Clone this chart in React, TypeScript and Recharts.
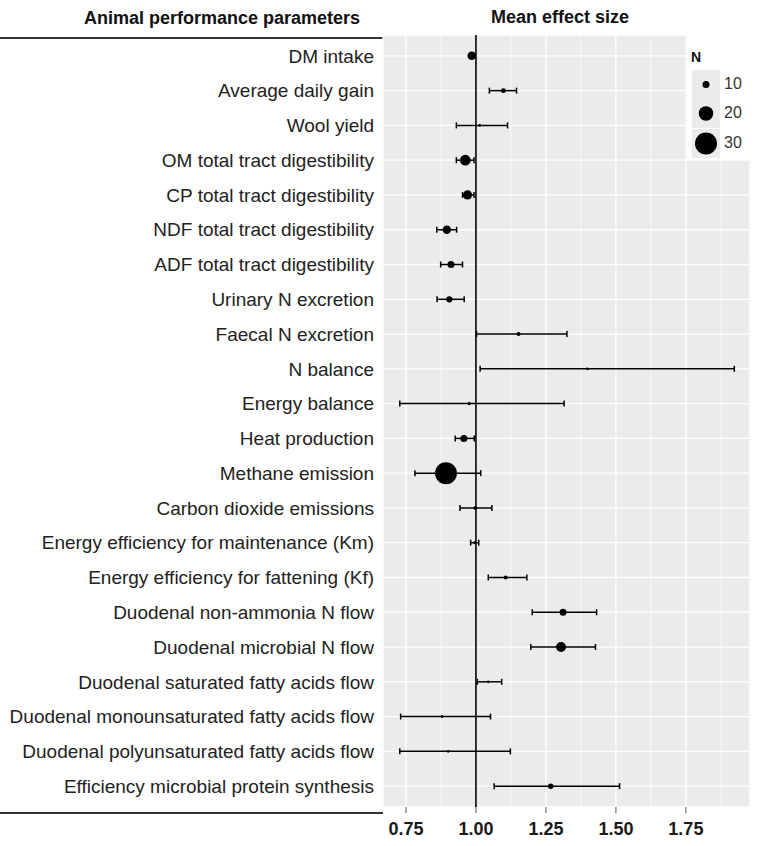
import React from 'react';
import {
  ScatterChart,
  Scatter,
  XAxis,
  YAxis,
  CartesianGrid,
  ReferenceLine,
  ErrorBar,
} from 'recharts';

// animal performance parameters, top to bottom
const parameters = [
  'DM intake',
  'Average daily gain',
  'Wool yield',
  'OM total tract digestibility',
  'CP total tract digestibility',
  'NDF total tract digestibility',
  'ADF total tract digestibility',
  'Urinary N excretion',
  'Faecal N excretion',
  'N balance',
  'Energy balance',
  'Heat production',
  'Methane emission',
  'Carbon dioxide emissions',
  'Energy efficiency for maintenance (Km)',
  'Energy efficiency for fattening (Kf)',
  'Duodenal non-ammonia N flow',
  'Duodenal microbial N flow',
  'Duodenal saturated fatty acids flow',
  'Duodenal monounsaturated fatty acids flow',
  'Duodenal polyunsaturated fatty acids flow',
  'Efficiency microbial protein synthesis',
];

// mean effect size and confidence limits
const effect = [0.985, 1.098, 1.014, 0.962, 0.970, 0.896, 0.911, 0.905, 1.152, 1.398, 0.976, 0.957, 0.893, 0.998, 0.997, 1.106, 1.311, 1.304, 1.044, 0.879, 0.901, 1.267];
const lower = [0.977, 1.048, 0.930, 0.930, 0.952, 0.860, 0.874, 0.861, 1.002, 1.015, 0.728, 0.926, 0.782, 0.943, 0.981, 1.044, 1.201, 1.196, 1.005, 0.731, 0.728, 1.065];
const upper = [0.993, 1.145, 1.113, 0.993, 0.993, 0.931, 0.952, 0.958, 1.325, 1.923, 1.315, 0.994, 1.017, 1.057, 1.010, 1.182, 1.431, 1.427, 1.092, 1.052, 1.123, 1.513];
// number of comparisons (point size)
const nStudies = [12, 7, 4, 15, 13, 12, 10, 9, 6, 3, 5, 10, 30, 6, 5, 6, 10, 14, 3, 3, 3, 8];

const xTicks = [0.75, 1.0, 1.25, 1.5, 1.75];
const xMinor = [0.875, 1.125, 1.375, 1.625, 1.875];
const legendSizes = [10, 20, 30];

const FONT = '"Liberation Sans", Arial, sans-serif';

const radius = (n: number) => Math.max(1.4, (0.75 * n - 0.5) / 2);

const rows = parameters.map((name, i) => ({
  name,
  idx: i,
  effect: effect[i],
  n: nStudies[i],
  err: [effect[i] - lower[i], upper[i] - effect[i]],
}));

const Dot = (props: any) => {
  const { cx, cy, payload } = props;
  if (cx == null || cy == null) return null;
  return <circle cx={cx} cy={cy} r={radius(payload.n)} fill="#000" />;
};

const SizeLegend = () => (
  <div
    style={{
      position: 'absolute',
      left: 687,
      top: 35,
      width: 70,
      height: 125,
      background: '#fff',
      fontFamily: FONT,
    }}
  >
    <div style={{ position: 'absolute', left: 4, top: 14, fontSize: 14, fontWeight: 700, lineHeight: '16px', color: '#111' }}>
      N
    </div>
    {legendSizes.map((s, i) => (
      <div key={s} style={{ position: 'absolute', left: 5, top: 35 + i * 29.3, height: 29.3, width: 65 }}>
        <svg width={28} height={29} style={{ position: 'absolute', left: 0, top: 0 }}>
          <rect x={0} y={0} width={28} height={29} fill="#ebebeb" />
          <circle cx={14} cy={14.5} r={radius(s)} fill="#000" />
        </svg>
        <span style={{ position: 'absolute', left: 32, top: 5, fontSize: 16, lineHeight: '18px', color: '#333' }}>{s}</span>
      </div>
    ))}
  </div>
);

export default function App() {
  return (
    <div style={{ position: 'absolute', left: 0, top: 0, width: 757, height: 846, background: '#fff' }}>
      <div style={{ position: 'absolute', left: 0, width: 444, top: 8, textAlign: 'center', fontFamily: FONT, fontWeight: 700, fontSize: 18, lineHeight: '20px', color: '#111' }}>
        Animal performance parameters
      </div>
      <div style={{ position: 'absolute', left: 460, width: 200, top: 7, textAlign: 'center', fontFamily: FONT, fontWeight: 700, fontSize: 18, lineHeight: '20px', color: '#111' }}>
        Mean effect size
      </div>
      <div style={{ position: 'absolute', left: 0, top: 37, width: 383, height: 2, background: '#333' }} />
      <div style={{ position: 'absolute', left: 0, top: 812, width: 383, height: 2, background: '#333' }} />
      <div style={{ position: 'absolute', left: 0, top: 0 }}>
        <ScatterChart width={757} height={846} margin={{ top: 35, right: 7, bottom: 0, left: 0 }}>
          <CartesianGrid fill="#ebebeb" fillOpacity={1} stroke="#fff" strokeWidth={1.3} />
          <XAxis
            type="number"
            dataKey="effect"
            domain={[0.668, 1.979]}
            allowDataOverflow
            ticks={xTicks}
            tickFormatter={(v: number) => v.toFixed(2)}
            axisLine={false}
            tickLine={{ stroke: '#555' }}
            tickSize={6}
            tickMargin={9}
            height={39}
            tick={{ fontSize: 18, fontWeight: 700, fill: '#1a1a1a', fontFamily: FONT }}
          />
          <YAxis
            type="number"
            dataKey="idx"
            domain={[-0.6, parameters.length - 0.4]}
            reversed
            ticks={rows.map((r) => r.idx)}
            interval={0}
            tickFormatter={(v: number) => parameters[v] ?? ''}
            axisLine={false}
            tickLine={false}
            tickSize={0}
            tickMargin={9}
            width={383}
            tick={{ fontSize: 19, fill: '#222', fontFamily: FONT }}
          />
          {xMinor.map((v) => (
            <ReferenceLine key={v} x={v} stroke="#fff" strokeWidth={0.7} />
          ))}
          <ReferenceLine x={1} stroke="#000" strokeWidth={1.6} />
          <Scatter data={rows} shape={Dot} isAnimationActive={false}>
            <ErrorBar dataKey="err" direction="x" width={3} stroke="#000" strokeWidth={1.5} />
          </Scatter>
        </ScatterChart>
      </div>
      <SizeLegend />
    </div>
  );
}
